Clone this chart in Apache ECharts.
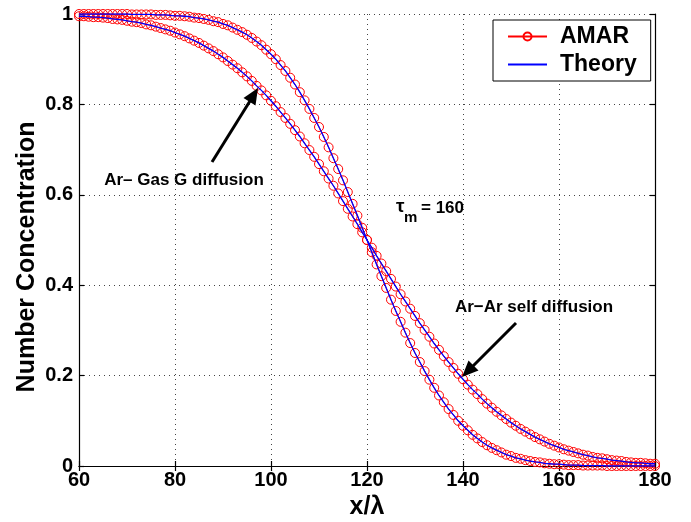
<!DOCTYPE html>
<html lang="en">
  <head>
    <meta charset="UTF-8" />
    <title>Number Concentration</title>
    <style>
      body {
        margin: 0;
        overflow: hidden;
        background: #fff;
      }
    </style>
    <script src="https://cdn.jsdelivr.net/npm/echarts@6/dist/echarts.min.js"></script>
  </head>

  <body>
    <div id="chart" style="width: 691px; height: 522px"></div>
    <script>
      // x/lambda positions of the samples
      var xs = [
        60, 61, 62, 63, 64, 65, 66, 67, 68, 69,
        70, 71, 72, 73, 74, 75, 76, 77, 78, 79,
        80, 81, 82, 83, 84, 85, 86, 87, 88, 89,
        90, 91, 92, 93, 94, 95, 96, 97, 98, 99,
        100, 101, 102, 103, 104, 105, 106, 107, 108, 109,
        110, 111, 112, 113, 114, 115, 116, 117, 118, 119,
        120, 121, 122, 123, 124, 125, 126, 127, 128, 129,
        130, 131, 132, 133, 134, 135, 136, 137, 138, 139,
        140, 141, 142, 143, 144, 145, 146, 147, 148, 149,
        150, 151, 152, 153, 154, 155, 156, 157, 158, 159,
        160, 161, 162, 163, 164, 165, 166, 167, 168, 169,
        170, 171, 172, 173, 174, 175, 176, 177, 178, 179,
        180,
      ];

      // wider profile
      var wideCurve = [
        0.995, 0.995, 0.994, 0.993, 0.993, 0.992, 0.991, 0.989, 0.988, 0.987,
        0.985, 0.983, 0.982, 0.98, 0.977, 0.975, 0.972, 0.969, 0.966, 0.963,
        0.959, 0.955, 0.951, 0.946, 0.941, 0.936, 0.93, 0.924, 0.918, 0.911,
        0.904, 0.896, 0.888, 0.88, 0.871, 0.862, 0.852, 0.841, 0.831, 0.82,
        0.808, 0.796, 0.783, 0.77, 0.757, 0.743, 0.729, 0.714, 0.699, 0.684,
        0.668, 0.652, 0.636, 0.62, 0.603, 0.586, 0.569, 0.552, 0.535, 0.517,
        0.5, 0.483, 0.465, 0.448, 0.431, 0.414, 0.397, 0.38, 0.364, 0.348,
        0.332, 0.316, 0.301, 0.286, 0.271, 0.257, 0.243, 0.23, 0.217, 0.204,
        0.192, 0.18, 0.169, 0.159, 0.148, 0.138, 0.129, 0.12, 0.112, 0.104,
        0.096, 0.089, 0.082, 0.076, 0.07, 0.064, 0.059, 0.054, 0.049, 0.045,
        0.041, 0.037, 0.034, 0.031, 0.028, 0.025, 0.023, 0.02, 0.018, 0.017,
        0.015, 0.013, 0.012, 0.011, 0.009, 0.008, 0.007, 0.007, 0.006, 0.005,
        0.005,
      ];

      // steeper profile
      var steepCurve = [
        1, 1, 1, 1, 1, 1, 1, 1, 1, 1,
        1, 0.999, 0.999, 0.999, 0.999, 0.999, 0.998, 0.998, 0.998, 0.997,
        0.996, 0.996, 0.995, 0.994, 0.992, 0.991, 0.989, 0.987, 0.984, 0.982,
        0.978, 0.975, 0.97, 0.965, 0.96, 0.954, 0.947, 0.939, 0.931, 0.921,
        0.911, 0.9, 0.887, 0.874, 0.859, 0.844, 0.827, 0.809, 0.79, 0.77,
        0.75, 0.728, 0.705, 0.681, 0.657, 0.632, 0.606, 0.58, 0.554, 0.527,
        0.5, 0.473, 0.446, 0.42, 0.394, 0.368, 0.343, 0.319, 0.295, 0.272,
        0.25, 0.23, 0.21, 0.191, 0.173, 0.156, 0.141, 0.126, 0.113, 0.1,
        0.089, 0.079, 0.069, 0.061, 0.053, 0.046, 0.04, 0.035, 0.03, 0.025,
        0.022, 0.018, 0.016, 0.013, 0.011, 0.009, 0.008, 0.006, 0.005, 0.004,
        0.004, 0.003, 0.002, 0.002, 0.002, 0.001, 0.001, 0.001, 0.001, 0.001,
        0, 0, 0, 0, 0, 0, 0, 0, 0, 0,
        0,
      ];

      var FONT = "'Liberation Sans', Arial, Helvetica, sans-serif";

      function pairs(ys) {
        return xs.map(function (x, i) {
          return [x, ys[i]];
        });
      }

      function amarSeries(ys) {
        return {
          name: "AMAR",
          type: "line",
          data: pairs(ys),
          symbol: "circle",
          symbolSize: 9,
          showSymbol: true,
          itemStyle: {
            color: "rgba(255,0,0,0)",
            borderColor: "#ff0000",
            borderWidth: 1,
          },
          lineStyle: { color: "#ff0000", width: 1 },
          animation: false,
          z: 2,
        };
      }

      function theorySeries(ys) {
        return {
          name: "Theory",
          type: "line",
          data: pairs(ys),
          symbol: "none",
          itemStyle: { color: "#0000ff" },
          lineStyle: { color: "#0000ff", width: 1.3 },
          animation: false,
          z: 3,
        };
      }

      var dotted = { color: "#444", width: 1, type: [1, 4] };
      var black = { color: "#000", width: 1.2 };

      var option = {
        backgroundColor: "#fff",
        animation: false,
        grid: { left: 79, right: 36, top: 14, bottom: 56 },
        legend: {
          data: [
            { name: "AMAR" },
            { name: "Theory", itemStyle: { opacity: 0 } },
          ],
          orient: "vertical",
          left: 493,
          top: 20,
          padding: [5, 14, 5, 14],
          itemGap: 5,
          itemWidth: 39,
          itemHeight: 10,
          backgroundColor: "#fff",
          borderColor: "#000",
          borderWidth: 1,
          textStyle: {
            fontFamily: FONT,
            fontWeight: "bold",
            fontSize: 23,
            lineHeight: 22,
            color: "#000",
            padding: [0, 0, 0, 8],
          },
        },
        xAxis: [
          {
            type: "value",
            min: 60,
            max: 180,
            interval: 20,
            axisLine: { lineStyle: black },
            axisTick: { inside: true, length: 5, lineStyle: black },
            axisLabel: {
              margin: 4,
              fontFamily: FONT,
              fontWeight: "bold",
              fontSize: 20,
              color: "#000",
            },
            splitLine: { show: true, lineStyle: dotted },
          },
          {
            type: "value",
            position: "top",
            min: 60,
            max: 180,
            interval: 20,
            axisLine: { show: true, lineStyle: black },
            axisTick: { inside: true, length: 5, lineStyle: black },
            axisLabel: { show: false },
            splitLine: { show: false },
          },
        ],
        yAxis: [
          {
            type: "value",
            min: 0,
            max: 1,
            interval: 0.2,
            axisLine: { show: true, lineStyle: black },
            axisTick: { show: true, inside: true, length: 5, lineStyle: black },
            axisLabel: {
              margin: 6,
              fontFamily: FONT,
              fontWeight: "bold",
              fontSize: 20,
              color: "#000",
            },
            splitLine: { show: true, lineStyle: dotted },
          },
          {
            type: "value",
            position: "right",
            min: 0,
            max: 1,
            interval: 0.2,
            axisLine: { show: true, lineStyle: black },
            axisTick: { show: true, inside: true, length: 5, lineStyle: black },
            axisLabel: { show: false },
            splitLine: { show: false },
          },
        ],
        series: [
          amarSeries(wideCurve),
          amarSeries(steepCurve),
          theorySeries(wideCurve),
          theorySeries(steepCurve),
        ],
        graphic: [
          // axis titles
          {
            type: "text",
            x: 27,
            y: 257,
            rotation: Math.PI / 2,
            style: {
              text: "Number Concentration",
              font: "bold 25px " + FONT,
              fill: "#000",
              textAlign: "center",
              textVerticalAlign: "middle",
            },
          },
          {
            type: "text",
            x: 367,
            y: 507,
            style: {
              text: "x/λ",
              font: "bold 25px " + FONT,
              fill: "#000",
              textAlign: "center",
              textVerticalAlign: "middle",
            },
          },
          // annotations
          {
            type: "text",
            x: 184,
            y: 180,
            style: {
              text: "Ar\u2013 Gas G diffusion",
              font: "bold 17px " + FONT,
              fill: "#000",
              textAlign: "center",
              textVerticalAlign: "middle",
            },
          },
          {
            type: "text",
            x: 534,
            y: 307,
            style: {
              text: "Ar\u2212Ar self diffusion",
              font: "bold 17px " + FONT,
              fill: "#000",
              textAlign: "center",
              textVerticalAlign: "middle",
            },
          },
          {
            type: "text",
            x: 396,
            y: 207,
            style: {
              text: "\u03c4",
              font: "bold 19px " + FONT,
              fill: "#000",
              textVerticalAlign: "middle",
            },
          },
          {
            type: "text",
            x: 404,
            y: 218,
            style: {
              text: "m",
              font: "bold 15px " + FONT,
              fill: "#000",
              textVerticalAlign: "middle",
            },
          },
          {
            type: "text",
            x: 421,
            y: 208,
            style: {
              text: "= 160",
              font: "bold 17px " + FONT,
              fill: "#000",
              textVerticalAlign: "middle",
            },
          },
          // arrows
          {
            type: "line",
            shape: { x1: 212, y1: 162, x2: 250, y2: 101 },
            style: { stroke: "#000", lineWidth: 3 },
            z: 10,
          },
          {
            type: "polygon",
            shape: {
              points: [
                [258, 88],
                [255.5, 105.5],
                [243.5, 98],
              ],
            },
            style: { fill: "#000" },
            z: 10,
          },
          {
            type: "line",
            shape: { x1: 516, y1: 323, x2: 473, y2: 366 },
            style: { stroke: "#000", lineWidth: 3 },
            z: 10,
          },
          {
            type: "polygon",
            shape: {
              points: [
                [462, 377],
                [478.5, 370.5],
                [468.5, 360.5],
              ],
            },
            style: { fill: "#000" },
            z: 10,
          },
        ],
      };

      var myChart = echarts.init(document.getElementById("chart"));
      myChart.setOption(option);
    </script>
  </body>
</html>
